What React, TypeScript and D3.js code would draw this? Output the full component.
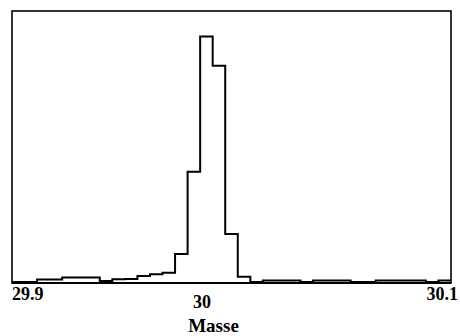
import { useEffect, useRef } from "react"
import * as d3 from "d3"

// histogram heights (relative units, peak bins around mass 30)
const counts = [
  0.4, 0.4, 1.3, 1.3, 2.0, 2.0, 2.0, 0.7, 1.4, 1.5, 2.6, 3.2, 3.8, 10.7, 40.9, 90.6, 79.9, 18.0,
  2.3, 0.35, 0.9, 0.9, 0.9, 0.35, 0.9, 0.9, 0.9, 0.35, 0.35, 0.9, 0.9, 0.9, 0.9, 0.35, 0.9,
]
const massRange = [29.9, 30.1]
const tickValues = [29.9, 30, 30.1]
const tickLabels = ["29.9", "30", "30.1"]
const xTitle = "Masse"

export default function App() {
  const svgRef = useRef<SVGSVGElement>(null)

  useEffect(() => {
    if (!svgRef.current) return
    const svg = d3.select(svgRef.current)
    svg.selectAll("*").remove()

    const margin = { top: 11, right: 9, bottom: 53, left: 12 }
    const width = 460 - margin.left - margin.right
    const height = 336 - margin.top - margin.bottom

    const g = svg.append("g").attr("transform", `translate(${margin.left},${margin.top})`)

    // * bins are evenly spaced over the mass range
    const step = (massRange[1] - massRange[0]) / counts.length
    const x = d3.scaleLinear().domain(massRange).range([0, width])
    const y = d3.scaleLinear().domain([0, 100]).range([height, 0])
    // * the printed "30" label sits left of the true midpoint in the original
    const xTick = d3.scaleLinear().domain(tickValues).range([0, 190, width])

    // * frame
    g.append("rect")
      .attr("x", 0)
      .attr("y", 0)
      .attr("width", width)
      .attr("height", height)
      .attr("fill", "none")
      .attr("stroke", "#000")
      .attr("stroke-width", 1.6)

    // * baseline axis
    g.append("line")
      .attr("x1", 0)
      .attr("x2", width)
      .attr("y1", height)
      .attr("y2", height)
      .attr("stroke", "#000")
      .attr("stroke-width", 2)

    // * step outline
    const pts: [number, number][] = counts.map((c, i) => [massRange[0] + i * step, c])
    pts.push([massRange[1], counts[counts.length - 1]])
    const line = d3
      .line<[number, number]>()
      .x((d) => x(d[0]))
      .y((d) => y(d[1]))
      .curve(d3.curveStepAfter)

    g.append("path")
      .attr("d", line(pts))
      .attr("fill", "none")
      .attr("stroke", "#000")
      .attr("stroke-width", 2)

    // * tick labels
    const anchors = ["start", "middle", "end"]
    const shift = [0, 0, 7]
    const baseY = [300, 308, 300]
    tickValues.forEach((v, i) => {
      g.append("text")
        .attr("x", xTick(v) + shift[i])
        .attr("y", baseY[i] - margin.top)
        .attr("text-anchor", anchors[i])
        .attr("font-family", "Liberation Serif, serif")
        .attr("font-weight", "bold")
        .attr("font-size", "18px")
        .attr("fill", "#000")
        .text(tickLabels[i])
    })

    // * axis title
    g.append("text")
      .attr("x", 213.5 - margin.left)
      .attr("y", 332 - margin.top)
      .attr("text-anchor", "middle")
      .attr("font-family", "Liberation Serif, serif")
      .attr("font-weight", "bold")
      .attr("font-size", "19px")
      .attr("fill", "#000")
      .text(xTitle)
  }, [])

  return (
    <svg
      ref={svgRef}
      width={460}
      height={336}
      style={{ position: "absolute", left: 0, top: 0, background: "#fff" }}
    ></svg>
  )
}
